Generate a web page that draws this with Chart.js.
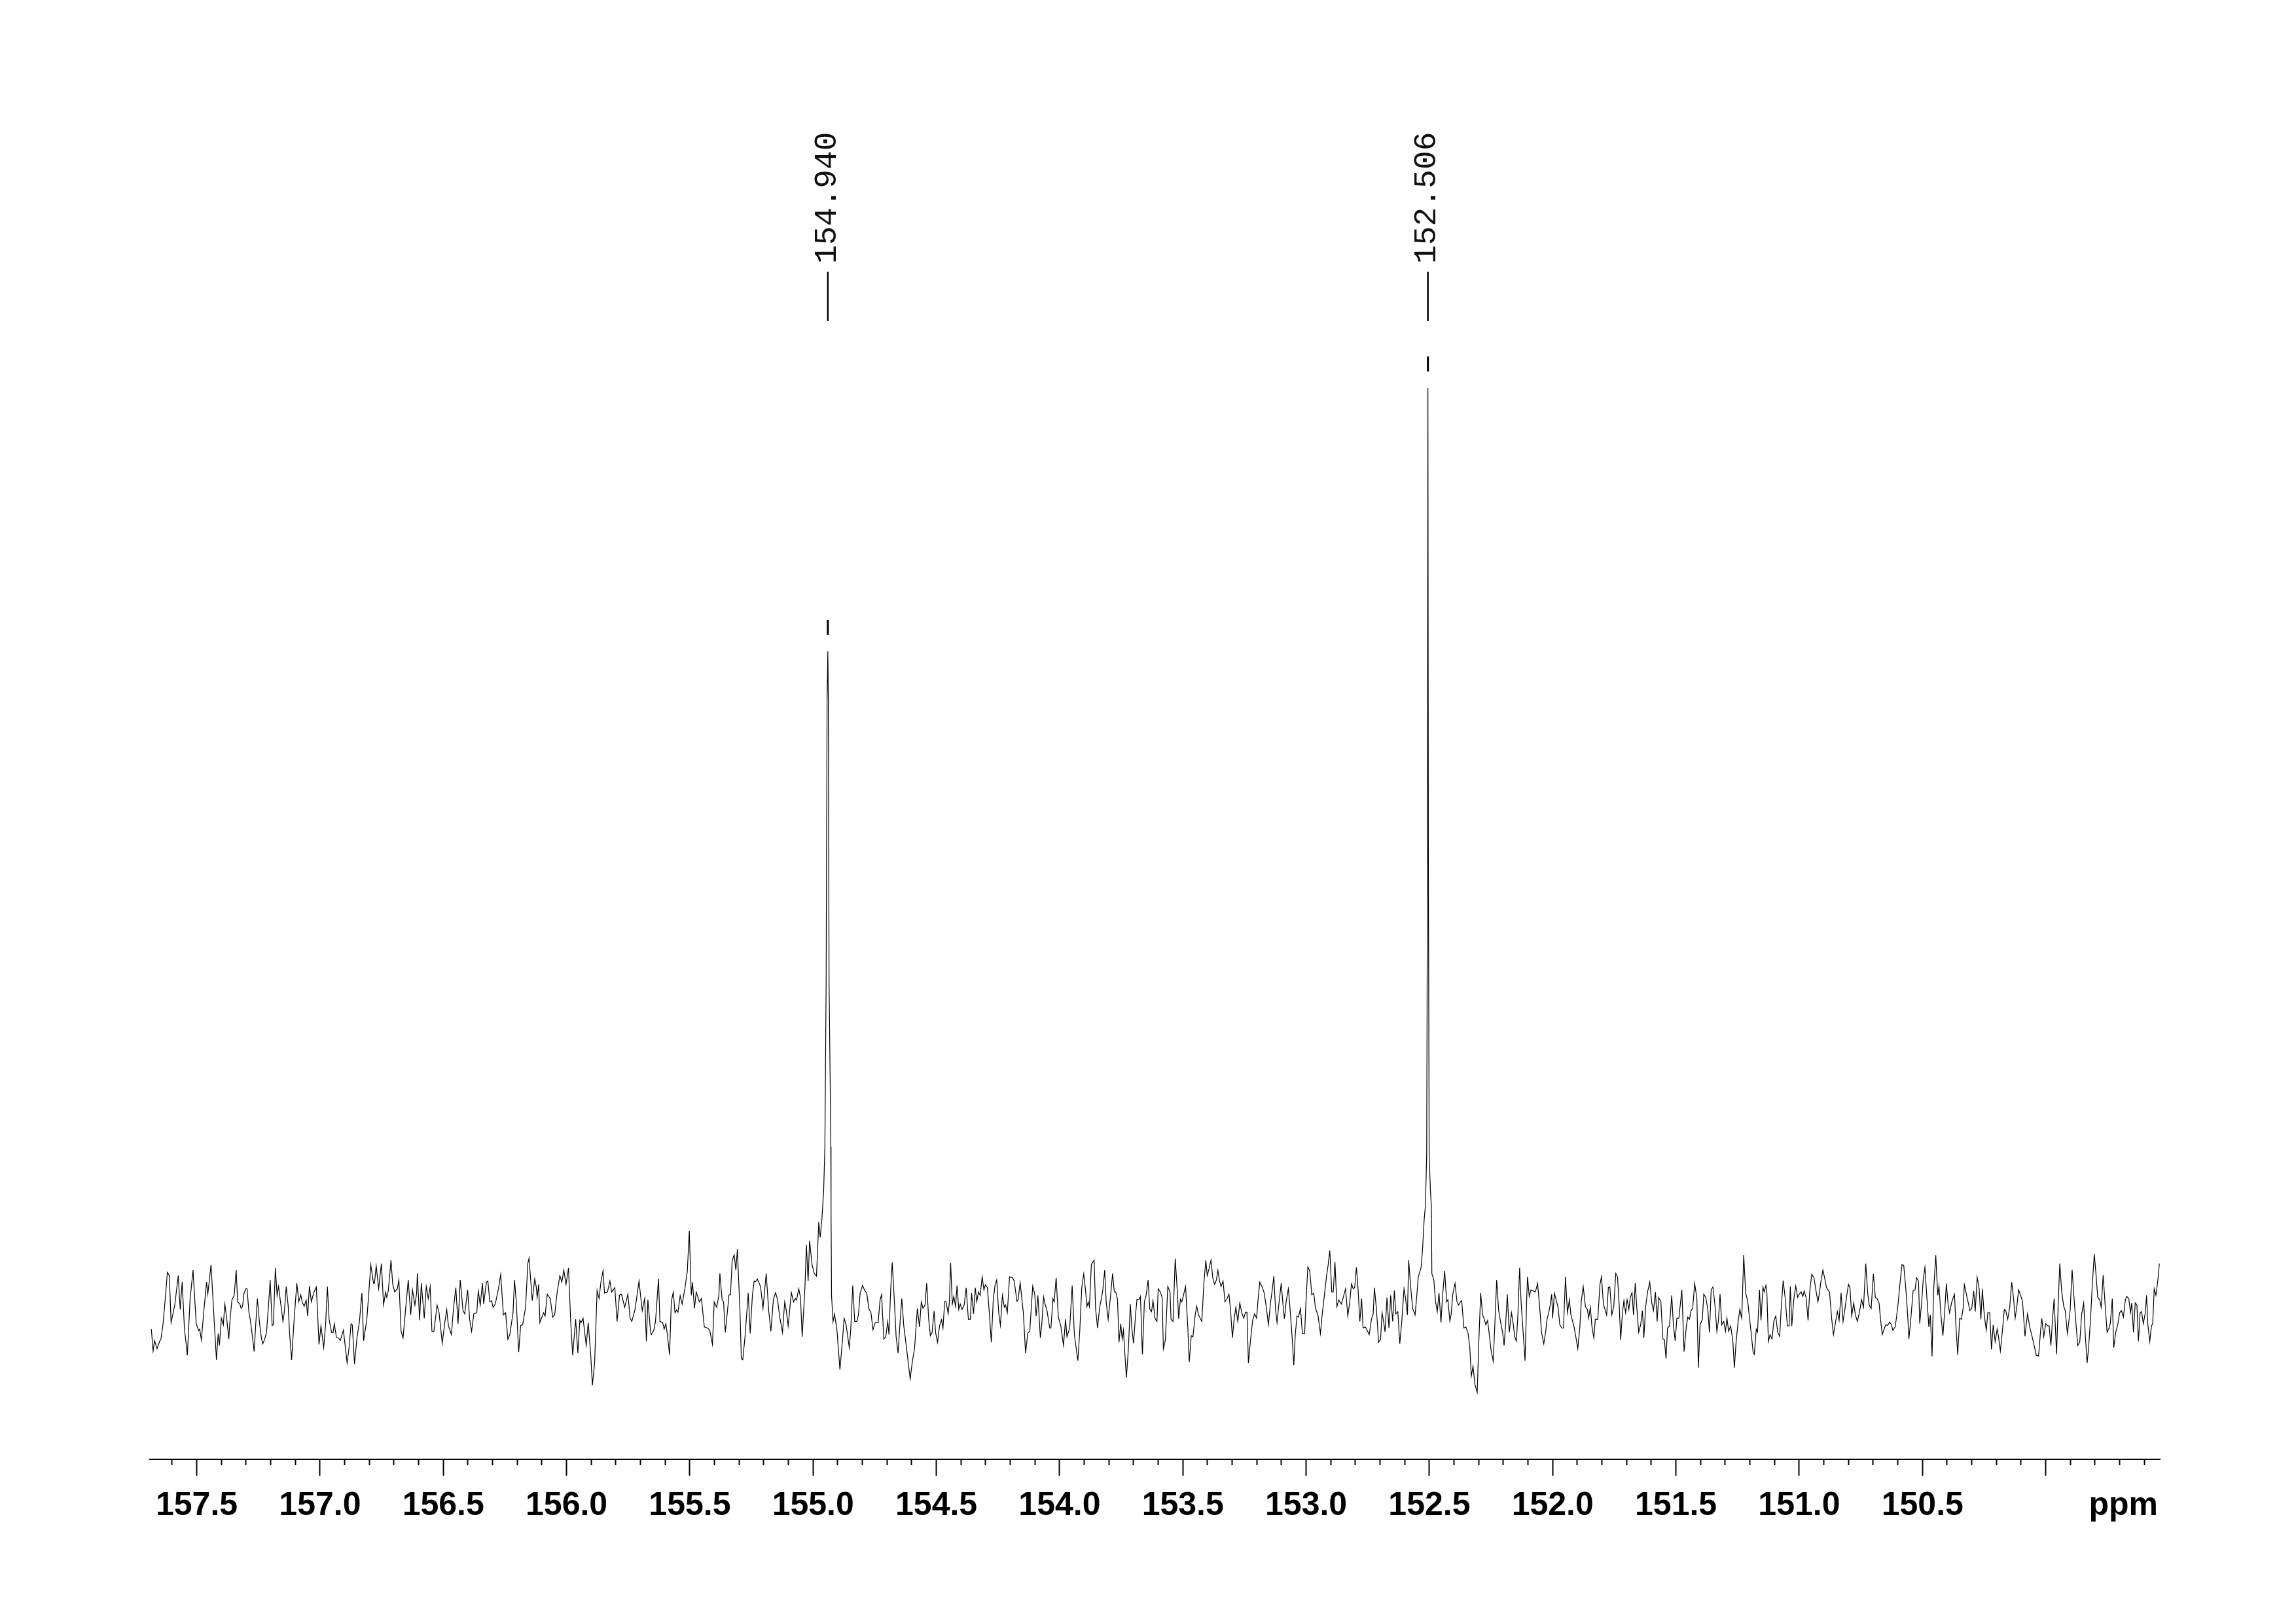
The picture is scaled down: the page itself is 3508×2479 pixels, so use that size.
<!DOCTYPE html>
<html>
<head>
<meta charset="utf-8">
<script src="https://cdn.jsdelivr.net/npm/chart.js@4.4.0/dist/chart.umd.min.js"></script>
<style>
html,body{margin:0;padding:0;background:#ffffff;}
#wrap{width:3508px;height:2479px;position:relative;}
</style>
</head>
<body>
<div id="wrap"><canvas id="c"></canvas></div>
<script>
// ---- spectrum data: [ppm, intensity (arb. units)] ----
const baseline1 = [[157.684,-79],[157.677,-179],[157.671,-132],[157.661,-169],[157.650,-134],[157.645,-124],[157.637,-59],[157.628,56],[157.619,181],[157.611,166],[157.604,-49],[157.589,31],[157.575,166],[157.567,11],[157.559,138],[157.550,-74],[157.538,-199],[157.527,56],[157.515,191],[157.502,-54],[157.492,-86],[157.488,-79],[157.481,-129],[157.471,6],[157.460,136],[157.455,81],[157.442,216],[157.429,-44],[157.420,-219],[157.413,-99],[157.408,-154],[157.400,-29],[157.392,-59],[157.386,36],[157.379,-24],[157.370,-124],[157.364,-24],[157.357,56],[157.348,76],[157.340,191],[157.334,46],[157.325,36],[157.320,16],[157.314,26],[157.308,86],[157.300,106],[157.296,106],[157.288,-4],[157.283,-34],[157.274,-114],[157.267,-182],[157.261,-64],[157.254,61],[157.245,-54],[157.237,-124],[157.232,-146],[157.224,-124],[157.217,-94],[157.209,26],[157.202,146],[157.194,-62],[157.189,-59],[157.181,201],[157.174,76],[157.168,116],[157.158,26],[157.150,-44],[157.144,6],[157.137,116],[157.129,26],[157.123,-104],[157.115,-219],[157.106,-54],[157.094,131],[157.086,46],[157.078,78],[157.071,41],[157.064,26],[157.056,54],[157.050,-19],[157.043,118],[157.035,46],[157.026,86],[157.015,114],[157.009,-24],[157.004,-149],[156.996,-64],[156.985,-164],[156.977,-54],[156.970,116],[156.963,-34],[156.953,-94],[156.947,-96],[156.942,-54],[156.933,-119],[156.925,-119],[156.918,-132],[156.905,-84],[156.890,-234],[156.882,-164],[156.874,-54],[156.869,-59],[156.860,-239],[156.850,-119],[156.840,-44],[156.830,86],[156.823,-132],[156.810,-34],[156.802,86],[156.794,216],[156.783,131],[156.779,131],[156.772,211],[156.762,106],[156.751,221],[156.742,31],[156.734,91],[156.729,66],[156.723,96],[156.712,236],[156.705,126],[156.697,91],[156.686,106],[156.680,146],[156.671,-89],[156.663,-119],[156.654,-4],[156.642,146],[156.632,-14],[156.625,101],[156.615,31],[156.608,86],[156.605,176],[156.596,-39],[156.589,131],[156.577,-29],[156.569,116],[156.561,61],[156.553,116],[156.546,-89],[156.538,-89],[156.525,31],[156.517,-4],[156.504,-144],[156.495,-59],[156.486,11],[156.479,-64],[156.467,-104],[156.458,21],[156.449,111],[156.440,-54],[156.431,146],[156.420,6],[156.413,-9],[156.401,101],[156.393,-34],[156.385,-89],[156.376,-9],[156.364,-4],[156.358,96],[156.350,31],[156.341,131],[156.336,36],[156.325,136],[156.319,141],[156.311,46],[156.304,51],[156.298,21],[156.289,36],[156.276,106],[156.267,171],[156.256,-14],[156.247,-4],[156.238,-126],[156.230,-104],[156.217,-4],[156.211,146],[156.204,51],[156.194,-184],[156.186,-62],[156.178,-59],[156.166,21],[156.157,221],[156.152,246],[156.139,51],[156.129,151],[156.123,116],[156.119,66],[156.113,126],[156.108,-49],[156.093,-4],[156.087,-19],[156.078,81],[156.066,61],[156.056,-24],[156.048,-14],[156.039,81],[156.027,166],[156.019,136],[156.011,191],[156.002,126],[155.992,201],[155.983,-44],[155.975,-199],[155.963,-34],[155.954,-189],[155.946,-39],[155.941,-49],[155.933,-29],[155.920,-154],[155.912,-49],[155.902,-194],[155.895,-336],[155.886,-234],[155.876,98],[155.868,61],[155.860,141],[155.852,188],[155.846,86],[155.834,91],[155.824,141],[155.817,91],[155.804,111],[155.795,-44],[155.785,76],[155.777,81],[155.764,21],[155.751,81],[155.742,-29],[155.735,-44],[155.722,11],[155.706,141],[155.693,6],[155.683,61],[155.676,-134],[155.670,56],[155.659,-94]];

const baseline2 = [[155.656,-104],[155.646,-84],[155.639,-44],[155.627,151],[155.621,-44],[155.610,-49],[155.604,-79],[155.597,-54],[155.591,-104],[155.582,-197],[155.575,46],[155.567,91],[155.560,-4],[155.554,8],[155.548,-2],[155.539,74],[155.531,36],[155.520,106],[155.510,186],[155.502,371],[155.494,76],[155.489,136],[155.481,16],[155.474,91],[155.461,46],[155.453,61],[155.441,-69],[155.428,-74],[155.419,-84],[155.408,-149],[155.401,46],[155.391,21],[155.382,76],[155.378,176],[155.369,56],[155.363,46],[155.356,-94],[155.347,6],[155.341,78],[155.335,78],[155.328,236],[155.320,261],[155.313,191],[155.307,286],[155.296,-9],[155.291,-214],[155.285,-219],[155.276,-114],[155.263,86],[155.255,-99],[155.246,76],[155.239,141],[155.233,138],[155.226,151],[155.213,116],[155.203,16],[155.190,176],[155.180,6],[155.171,-89],[155.161,56],[155.152,88],[155.144,56],[155.135,-24],[155.124,-94],[155.115,46],[155.109,11],[155.101,-64],[155.088,88],[155.079,46],[155.072,61],[155.067,54],[155.058,106],[155.051,66],[155.044,-114],[155.033,111],[155.027,306],[155.020,141],[155.014,326],[155.004,216],[154.995,176],[154.986,164],[154.977,411],[154.971,341]];

const peak1 = [[154.964,426],[154.957,555],[154.952,756],[154.947,1500],[154.943,2800],[154.940,3024],[154.938,2800],[154.935,1500],[154.930,1000],[154.928,756],[154.927,465],[154.925,75],[154.919,-45]];

const baseline3 = [[154.913,-9],[154.903,-84],[154.891,-264],[154.881,-134],[154.874,-29],[154.866,-59],[154.853,-164],[154.847,-79],[154.839,121],[154.831,-44],[154.822,-44],[154.816,-14],[154.809,86],[154.799,121],[154.790,96],[154.782,86],[154.774,16],[154.765,-4],[154.757,-82],[154.748,-49],[154.736,-49],[154.728,56],[154.722,79],[154.713,-124],[154.705,-114],[154.697,-44],[154.692,-104],[154.685,106],[154.679,226],[154.671,66],[154.663,-114],[154.655,-189],[154.647,-44],[154.640,61],[154.632,-64],[154.620,-174],[154.606,-307],[154.598,-234],[154.588,-164],[154.577,16],[154.568,-69],[154.561,46],[154.554,16],[154.546,31],[154.539,131],[154.531,-34],[154.524,-109],[154.517,-94],[154.509,4],[154.503,-94],[154.495,-139],[154.487,-64],[154.479,-36],[154.473,-74],[154.466,48],[154.460,46],[154.452,-9],[154.447,46],[154.442,224],[154.435,36],[154.429,71],[154.422,24],[154.416,121],[154.409,11],[154.403,36],[154.396,11],[154.387,31],[154.379,111],[154.370,-34],[154.362,-34],[154.357,86],[154.349,-9],[154.342,111],[154.336,46],[154.329,91],[154.322,76],[154.314,161],[154.307,101],[154.301,124],[154.293,111],[154.285,-4],[154.277,-139],[154.269,56],[154.262,121],[154.255,146],[154.247,-4],[154.240,-62],[154.232,76],[154.224,21],[154.219,31],[154.212,-4],[154.203,161],[154.191,156],[154.184,141],[154.173,48],[154.168,56],[154.160,134],[154.147,-4],[154.138,-189],[154.129,-96],[154.121,-89],[154.109,118],[154.101,84],[154.095,-19],[154.088,76],[154.078,-119],[154.072,-54],[154.065,68],[154.059,36],[154.051,6],[154.040,-74],[154.035,-74],[154.027,61],[154.022,46],[154.014,156],[154.005,-24],[153.995,-64],[153.984,-154],[153.976,-34],[153.970,-114],[153.959,-74],[153.949,121],[153.940,-104],[153.926,-224],[153.918,-84],[153.910,111],[153.902,174],[153.894,91],[153.889,24],[153.884,46],[153.879,24],[153.871,218],[153.860,236],[153.854,16],[153.846,-74],[153.838,16],[153.825,96],[153.817,191],[153.811,46],[153.803,-34],[153.793,76],[153.785,176],[153.778,91],[153.772,91],[153.765,56],[153.759,-139],[153.752,-54],[153.746,-124],[153.741,-84],[153.734,-214],[153.729,-302],[153.721,-169],[153.713,36],[153.707,-74],[153.700,-144],[153.692,-14],[153.686,58],[153.678,56],[153.672,71],[153.664,-194],[153.656,46],[153.649,76],[153.641,146],[153.634,11],[153.627,1],[153.621,51],[153.613,-29]];

const baseline4 = [[153.605,-44],[153.600,106],[153.591,91],[153.584,66],[153.579,-169],[153.571,-129],[153.561,116],[153.552,91],[153.548,-34],[153.540,-44],[153.531,244],[153.522,86],[153.517,-32],[153.510,58],[153.504,46],[153.489,116],[153.480,-69],[153.474,-229],[153.466,-109],[153.459,-114],[153.450,-14],[153.444,26],[153.436,-14],[153.423,-44],[153.415,126],[153.407,236],[153.401,166],[153.394,196],[153.386,236],[153.378,151],[153.371,126],[153.364,146],[153.358,191],[153.351,141],[153.345,116],[153.337,141],[153.329,46],[153.321,61],[153.313,81],[153.307,16],[153.299,-119],[153.292,-34],[153.285,21],[153.277,-44],[153.269,41],[153.261,-4],[153.253,-29],[153.246,-2],[153.240,-2],[153.234,-234],[153.226,-134],[153.217,-39],[153.209,-9],[153.201,-29],[153.195,56],[153.188,136],[153.179,116],[153.170,86],[153.162,26],[153.153,-59],[153.144,46],[153.139,86],[153.131,164],[153.124,11],[153.118,-49],[153.111,31],[153.101,131],[153.094,36],[153.088,-32],[153.081,46],[153.072,106],[153.066,26],[153.058,-94],[153.050,-244],[153.044,-104],[153.037,-19],[153.031,-24],[153.023,16],[153.015,-99],[153.006,-99],[153.001,36],[152.993,206],[152.985,186],[152.977,78],[152.969,86],[152.962,16],[152.952,-14],[152.942,-99],[152.935,-14],[152.925,86],[152.917,166],[152.911,211],[152.904,281],[152.896,91],[152.890,91],[152.883,228],[152.875,24],[152.868,54],[152.857,36],[152.847,76],[152.840,106],[152.831,-19],[152.823,46],[152.816,128],[152.809,106],[152.803,111],[152.796,204],[152.790,116],[152.782,-44],[152.775,61],[152.769,-74],[152.760,-69],[152.753,-84],[152.744,-104],[152.735,-34],[152.728,-9],[152.723,111],[152.715,16],[152.706,-139],[152.698,-126],[152.692,-4],[152.685,-49],[152.680,-92],[152.672,66],[152.664,-74],[152.657,76],[152.649,-44],[152.642,98],[152.636,-9],[152.628,1],[152.620,-146],[152.612,-44],[152.603,106],[152.597,66],[152.589,-14],[152.584,236],[152.576,116],[152.568,16],[152.558,-14],[152.551,76],[152.545,161],[152.534,201],[152.528,281],[152.521,426]];

const peak2 = [[152.516,486],[152.511,720],[152.508,2000],[152.506,4230],[152.504,2000],[152.501,720],[152.496,560],[152.492,486]];

const baseline5 = [[152.490,176],[152.482,146],[152.475,46],[152.468,1],[152.461,86],[152.453,-49],[152.447,66],[152.438,188],[152.430,46],[152.425,56],[152.417,-42],[152.412,-14],[152.405,81],[152.396,131],[152.388,46],[152.382,31],[152.374,46],[152.369,51],[152.360,-74],[152.352,-69],[152.343,-99],[152.336,-164],[152.330,-294],[152.323,-249],[152.315,-334],[152.306,-369],[152.300,-154],[152.292,86],[152.284,-14],[152.277,-34],[152.271,-59],[152.264,-39],[152.258,-94],[152.250,-174],[152.241,-226],[152.234,-44],[152.227,146],[152.219,6],[152.210,-54],[152.203,-94],[152.197,-154],[152.190,-44],[152.184,81],[152.176,-94],[152.167,-4],[152.160,-54],[152.154,-114],[152.147,-134],[152.141,-14],[152.134,201],[152.128,46],[152.118,-124],[152.112,-224],[152.105,66],[152.102,161],[152.095,71],[152.088,101],[152.079,96],[152.070,91],[152.061,131],[152.053,26],[152.045,-94],[152.036,-146],[152.028,-89],[152.023,-34],[152.017,-9],[152.010,31],[152.004,81],[152.000,-29],[151.993,86],[151.986,56],[151.978,21],[151.971,-59],[151.963,-74],[151.956,-74],[151.948,161],[151.940,-4],[151.932,56],[151.926,-14],[151.919,-44],[151.913,-69],[151.906,-114],[151.898,-169],[151.890,-74],[151.884,46],[151.876,116],[151.867,24],[151.859,11],[151.854,-29],[151.847,21],[151.841,-64],[151.833,-119],[151.827,-34],[151.817,-34],[151.808,126],[151.802,161],[151.794,36],[151.789,16],[151.781,-14],[151.774,111],[151.768,114],[151.760,-14],[151.752,26],[151.744,176],[151.737,161],[151.730,31],[151.724,-129],[151.717,-4],[151.711,51],[151.704,-4],[151.698,56],[151.691,11],[151.685,66],[151.678,88],[151.672,-14],[151.665,131],[151.659,26],[151.651,-94],[151.643,-59],[151.636,6],[151.630,-119],[151.623,21],[151.615,91],[151.606,136],[151.598,41],[151.591,6],[151.583,91],[151.576,-44],[151.570,66]];

const baseline6 = [[151.561,46],[151.553,-124],[151.547,-126],[151.540,-214],[151.534,-74],[151.526,-64],[151.517,76],[151.510,-64],[151.503,-132],[151.496,-29],[151.488,-29],[151.476,101],[151.467,-182],[151.458,-69],[151.452,-24],[151.445,-34],[151.439,6],[151.432,16],[151.424,131],[151.415,61],[151.409,-256],[151.402,-59],[151.393,-34],[151.387,81],[151.379,66],[151.371,16],[151.364,-94],[151.357,101],[151.350,114],[151.342,36],[151.334,-89],[151.328,-44],[151.321,81],[151.314,-59],[151.306,-44],[151.299,-89],[151.293,-29],[151.286,-89],[151.278,-64],[151.269,-134],[151.263,-256],[151.256,-139],[151.248,-49],[151.241,11],[151.233,-29],[151.225,260],[151.217,86],[151.209,51],[151.200,-44],[151.194,-104],[151.187,-184],[151.182,-194],[151.174,-79],[151.169,-92],[151.161,101],[151.155,-39],[151.147,114],[151.142,91],[151.135,121],[151.131,86],[151.125,-136],[151.118,-104],[151.110,-124],[151.103,-44],[151.095,-19],[151.087,-94],[151.079,-112],[151.073,16],[151.065,144],[151.057,66],[151.048,-64],[151.041,-64],[151.036,116],[151.030,-64],[151.022,56],[151.014,118],[151.006,66],[151.000,81],[150.992,91],[150.985,71],[150.980,96],[150.972,66],[150.964,-39],[150.957,96],[150.949,171],[150.940,156],[150.931,91],[150.924,46],[150.918,86],[150.911,146],[150.904,191],[150.897,156],[150.889,111],[150.877,91],[150.868,-34],[150.861,-104],[150.852,-44],[150.845,1],[150.838,-39],[150.830,88],[150.822,-44],[150.813,26],[150.807,76],[150.800,126],[150.794,111],[150.787,-19],[150.779,41],[150.772,-14],[150.764,-44],[150.756,-4],[150.747,56],[150.739,21],[150.730,221],[150.722,86],[150.716,31],[150.708,16],[150.699,174],[150.691,66],[150.684,61],[150.676,41],[150.670,-34],[150.663,-104],[150.657,-84],[150.649,-59],[150.641,-62],[150.633,-46],[150.626,-59],[150.620,-84],[150.611,-69],[150.605,-24],[150.598,46],[150.589,156],[150.583,216],[150.576,214],[150.566,86],[150.559,-34],[150.555,-124],[150.548,-44],[150.538,96],[150.530,101],[150.524,156],[150.516,141],[150.511,-54],[150.503,46],[150.497,146],[150.490,204],[150.482,66],[150.474,-69],[150.468,-14],[150.461,-204],[150.455,91],[150.446,259],[150.438,76],[150.433,118],[150.425,-14],[150.417,-109],[150.409,16],[150.403,130],[150.396,36],[150.390,-4],[150.381,46],[150.370,81],[150.364,-69],[150.357,-196],[150.349,-29],[150.342,-34],[150.335,16],[150.330,124],[150.321,76],[150.313,36],[150.308,6],[150.300,16],[150.292,96],[150.286,1],[150.278,158],[150.270,106],[150.263,-34],[150.257,104],[150.249,-19],[150.241,-84],[150.235,-4],[150.227,-4],[150.220,-172],[150.213,-59],[150.205,-136],[150.197,-79],[150.192,-109],[150.184,-179],[150.176,-89],[150.168,11],[150.162,6],[150.154,-34],[150.146,21],[150.138,136],[150.130,56],[150.124,-29],[150.117,26],[150.110,101],[150.102,76],[150.094,46],[150.084,-112],[150.074,-9],[150.064,-74],[150.055,-114],[150.047,-154],[150.038,-199],[150.029,-202],[150.021,-89],[150.016,-29],[150.008,-114],[150.000,-54],[149.992,-64],[149.986,-64],[149.979,-154],[149.973,-44],[149.966,61],[149.956,-194],[149.949,46],[149.943,221],[149.935,91],[149.927,26],[149.921,6],[149.912,-99],[149.901,6],[149.893,193],[149.886,76],[149.878,-44],[149.870,-154],[149.862,-139],[149.854,-9],[149.846,41],[149.839,-114],[149.832,-234],[149.826,-164],[149.818,-29],[149.811,126],[149.803,266],[149.797,186],[149.789,66],[149.781,56],[149.775,21],[149.767,168],[149.758,16],[149.751,-94],[149.745,-79],[149.738,-54],[149.730,61],[149.724,-164],[149.716,-94],[149.708,-59],[149.700,-4],[149.693,6],[149.685,-24],[149.677,56],[149.671,71],[149.663,61],[149.656,-4],[149.651,41],[149.644,-94],[149.637,41],[149.630,31],[149.624,-134],[149.617,-4],[149.611,1],[149.604,-54],[149.596,-4],[149.591,76],[149.586,-54],[149.578,-136],[149.571,-64],[149.566,-54],[149.560,106],[149.553,76],[149.545,146],[149.539,221]];

// ---- peak annotations ----
const peakLabels = ['154.940', '152.506'];
const peakPositions = [154.940, 152.506];
const peakHeights = [3024, 4230];

// ---- axis ----
const majorTicks = [157.5, 157.0, 156.5, 156.0, 155.5, 155.0, 154.5, 154.0, 153.5, 153.0, 152.5, 152.0, 151.5, 151.0, 150.5, 150.0];
const tickLabels = ['157.5', '157.0', '156.5', '156.0', '155.5', '155.0', '154.5', '154.0', '153.5', '153.0', '152.5', '152.0', '151.5', '151.0', '150.5', ''];
const minorStep = 0.1;
const axisUnit = 'ppm';
const xRange = [149.537, 157.690];
const yRange = [-675, 5706];

const spectrum = [].concat(baseline1, baseline2, peak1, baseline3, baseline4, peak2, baseline5, baseline6)
  .map(p => ({x: p[0], y: p[1]}));

function majorIndex(v) {
  return majorTicks.findIndex(m => Math.abs(m - v) < 1e-6);
}

const LABEL_PAD = 16;

const peakLabelPlugin = {
  id: 'peakLabels',
  afterDatasetsDraw(chart) {
    const ctx = chart.ctx;
    const xs = chart.scales.x, ys = chart.scales.y;
    const top = chart.chartArea.top;
    ctx.save();
    ctx.strokeStyle = '#000';
    ctx.fillStyle = '#111';
    peakPositions.forEach((p, i) => {
      const x = xs.getPixelForValue(p);
      ctx.lineWidth = 2.5;
      ctx.beginPath();
      ctx.moveTo(x, top + 315);
      ctx.lineTo(x, top + 390);
      ctx.stroke();
      const yTop = ys.getPixelForValue(peakHeights[i]);
      ctx.lineWidth = 3;
      ctx.beginPath();
      ctx.moveTo(x, yTop - 48);
      ctx.lineTo(x, yTop - 25);
      ctx.stroke();
      ctx.save();
      ctx.translate(x - 1, top + 303);
      ctx.rotate(-Math.PI / 2);
      ctx.font = '48px "Liberation Mono"';
      ctx.textAlign = 'left';
      ctx.textBaseline = 'middle';
      ctx.fillText(peakLabels[i], 0, 0);
      ctx.restore();
    });
    ctx.restore();
  }
};

const unitPlugin = {
  id: 'unitLabel',
  afterDraw(chart) {
    const ctx = chart.ctx;
    const xs = chart.scales.x;
    ctx.save();
    ctx.font = 'bold 50px "Liberation Sans"';
    ctx.fillStyle = '#000';
    ctx.textAlign = 'right';
    ctx.textBaseline = 'middle';
    ctx.fillText(axisUnit, xs.right - 3, xs.top + 25 + LABEL_PAD + 30);
    ctx.restore();
  }
};

new Chart(document.getElementById('c'), {
  type: 'line',
  data: {
    datasets: [{
      data: spectrum,
      borderColor: '#000',
      borderWidth: 1.2,
      pointRadius: 0,
      tension: 0,
      fill: false
    }]
  },
  options: {
    responsive: true,
    maintainAspectRatio: false,
    devicePixelRatio: 1,
    animation: false,
    events: [],
    layout: { padding: { left: 229, right: 208, top: 100, bottom: 133 } },
    plugins: { legend: { display: false }, tooltip: { enabled: false } },
    scales: {
      x: {
        type: 'linear',
        reverse: true,
        min: xRange[0],
        max: xRange[1],
        position: 'bottom',
        border: { display: true, color: '#000', width: 2 },
        grid: {
          display: true,
          drawOnChartArea: false,
          drawTicks: true,
          tickLength: 25,
          tickWidth: 2,
          tickColor: '#000',
          tickBorderDash: (c) => (c.tick && majorIndex(c.tick.value) >= 0) ? [] : [8, 200]
        },
        ticks: {
          stepSize: minorStep,
          includeBounds: false,
          autoSkip: false,
          maxRotation: 0,
          minRotation: 0,
          padding: LABEL_PAD,
          color: '#000',
          font: { family: 'Liberation Sans', weight: 'bold', size: 50 },
          callback: (v) => { const i = majorIndex(v); return i >= 0 ? tickLabels[i] : ''; }
        }
      },
      y: {
        type: 'linear',
        display: false,
        min: yRange[0],
        max: yRange[1]
      }
    }
  },
  plugins: [peakLabelPlugin, unitPlugin]
});
</script>
</body>
</html>
